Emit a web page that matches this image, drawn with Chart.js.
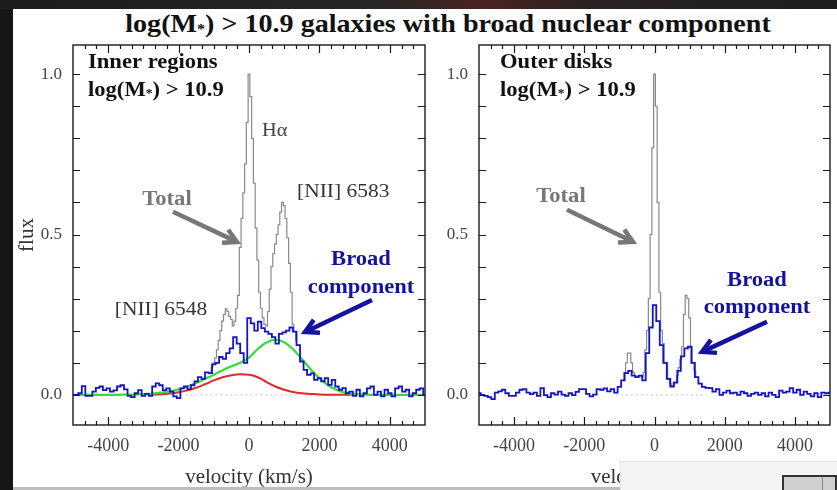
<!DOCTYPE html>
<html>
<head>
<meta charset="utf-8">
<title>Broad nuclear component</title>
<style>
  body {
    margin: 0;
    width: 837px;
    height: 490px;
    overflow: hidden;
    position: relative;
    background: #161616;
    font-family: 'Liberation Serif', 'DejaVu Serif', serif;
  }
  .topband {
    position: absolute; left: 0; top: 0; width: 837px; height: 9px;
    background: linear-gradient(90deg, #1c1c1c 0%, #262626 45%, #4a2420 58%, #2a2222 70%, #1e1e1e 100%);
  }
  .sheet { position: absolute; left: 13px; top: 9px; right: 0; bottom: 0; background: #ffffff; }
  .title {
    position: absolute; left: 0; top: 9px; width: 896px;
    text-align: center; font-weight: bold; font-size: 26px; color: #111;
    transform: scaleX(1.08); transform-origin: 448px 0;
  }
  .title .star { font-size: 15px; vertical-align: -2px; }
  canvas { position: absolute; top: 0; }
  #inner { left: 0; }
  #outer { left: 430px; }
  .shelf { position: absolute; left: 13px; top: 487px; width: 607px; height: 3px; background: #bdbdbd; }
  .popup {
    position: absolute; left: 620px; top: 461px; right: 0; bottom: 0;
    background: #f4f4f4; border-top: 1px solid #e4e4e4; border-left: 1px solid #e4e4e4;
  }
  .thumb {
    position: absolute; left: 782px; top: 475px; width: 51px; height: 15px;
    border: 2px solid #333; border-bottom: none; background: #cfcfcf;
  }
  .thumb::after { content: ''; position: absolute; left: 38px; top: 0; bottom: 0; border-left: 1px solid #888; }
</style>
<script src="https://cdn.jsdelivr.net/npm/chart.js"></script>
</head>
<body>
<div class="topband"></div>
<div class="sheet"></div>
<div class="title">log(M<span class="star">*</span>) &gt; 10.9 galaxies with broad nuclear component</div>
<canvas id="inner" width="430" height="490"></canvas>
<canvas id="outer" width="407" height="490"></canvas>
<div class="shelf"></div>
<div class="popup"></div>
<div class="thumb"></div>
<script>
// spectra are sampled on regular velocity grids (km/s): start + i * step
const specStart = -5000, specStep = 100;
const totalStep = 50;
const fitStep = 250;

// inner regions: broad-component spectrum (blue)
const innerBroad = [
  0.0, 0.0, 0.005, 0.027, -0.003, -0.003, 0.01, 0.022, 0.026, 0.015,
  0.02, 0.01, 0.014, 0.026, 0.03, 0.017, -0.003, -0.007, 0.005, 0.015,
  -0.003, 0.003, -0.003, 0.026, 0.036, 0.03, 0.015, 0.02, 0.01, -0.005,
  -0.01, 0.02, 0.026, 0.018, 0.03, 0.042, 0.055, 0.05, 0.07, 0.068,
  0.095, 0.1, 0.118, 0.112, 0.13, 0.145, 0.18, 0.16, 0.13, 0.1,
  0.239, 0.223, 0.2, 0.228, 0.208, 0.197, 0.19, 0.18, 0.16, 0.19,
  0.195, 0.2, 0.21, 0.197, 0.155, 0.104, 0.078, 0.062, 0.067, 0.047,
  0.052, 0.042, 0.052, 0.031, 0.047, 0.026, 0.016, 0.021, 0.005, 0.01,
  -0.003, 0.016, -0.005, 0.005, 0.02, 0.026, 0.0, 0.01, -0.005, 0.016,
  0.005, -0.005, 0.02, 0.026, 0.01, 0.016, -0.005, 0.005, 0.016, 0.02, 0.0
];
// inner regions: total spectrum (grey), only where it rises above the broad one
const innerTotalStart = -1100;
const innerTotal = [
  0.074, 0.085, 0.1, 0.115, 0.14, 0.17, 0.2, 0.23, 0.25, 0.268,
  0.26, 0.245, 0.235, 0.215, 0.23, 0.27, 0.31, 0.46, 0.55, 0.63,
  0.72, 0.85, 1.0, 0.93, 0.8, 0.66, 0.52, 0.42, 0.32, 0.27,
  0.24, 0.22, 0.215, 0.26, 0.33, 0.4, 0.44, 0.47, 0.5, 0.53,
  0.57, 0.6, 0.59, 0.55, 0.49, 0.41, 0.32, 0.22, 0.197, 0.17
];
// inner regions: fitted broad component (green) and narrow-line residual (red)
const innerGreenStart = -5000;
const innerGreen = [
  0, 0, 0, 0, 0, 0, 0.001, 0.001, 0.002, 0.004,
  0.007, 0.011, 0.017, 0.026, 0.037, 0.05, 0.063, 0.077, 0.089, 0.1,
  0.116, 0.143, 0.163, 0.172, 0.164, 0.142, 0.112, 0.08, 0.052, 0.03,
  0.015, 0.006, 0.002, 0.001, 0, 0, 0, 0, 0, 0, 0
];
const innerRedStart = -2750;
const innerRed = [
  0, 0.002, 0.004, 0.008, 0.014, 0.022, 0.033, 0.045, 0.055, 0.061,
  0.064, 0.063, 0.055, 0.04, 0.026, 0.016, 0.009, 0.005, 0.003, 0.001,
  0, 0, 0, 0
];

// outer disks: broad-component spectrum (blue)
const outerBroad = [
  0.005, 0.0, -0.003, -0.007, -0.013, 0.007, 0.011, 0.016, 0.005, -0.003,
  -0.003, 0.007, 0.016, 0.018, 0.007, 0.002, 0.007, -0.003, 0.021, -0.001,
  -0.007, 0.005, 0.001, 0.01, 0.001, -0.003, 0.005, -0.001, 0.009, 0.018,
  0.018, 0.003, -0.005, 0.001, 0.018, 0.016, 0.02, 0.011, 0.018, 0.007,
  0.025, 0.045, 0.068, 0.075, 0.06, 0.055, 0.06, 0.045, 0.13, 0.21,
  0.28, 0.23, 0.155, 0.1, 0.05, 0.026, 0.038, 0.075, 0.12, 0.145,
  0.15, 0.1, 0.055, 0.035, 0.025, 0.022, 0.021, 0.01, 0.018, 0.0,
  0.007, 0.013, 0.005, 0.007, 0.0, 0.01, 0.005, -0.003, 0.003, 0.007,
  0.0, 0.005, -0.005, 0.007, 0.0, -0.007, 0.013, 0.007, 0.01, 0.021,
  0.007, 0.016, 0.0, 0.01, 0.003, -0.005, 0.005, -0.007, 0.007, 0.005, 0.007
];
const outerTotalStart = -900;
const outerTotal = [
  0.045, 0.07, 0.1, 0.13, 0.13, 0.1, 0.07, 0.06, 0.055, 0.058,
  0.06, 0.055, 0.07, 0.14, 0.2, 0.3, 0.5, 0.77, 1.0, 0.9,
  0.6, 0.32, 0.2, 0.16, 0.1, 0.1, 0.05, 0.035, 0.026, 0.03,
  0.04, 0.06, 0.085, 0.11, 0.15, 0.25, 0.31, 0.3, 0.24, 0.15,
  0.1, 0.075, 0.055
];

// dotted zero-flux reference segments
const innerZero = [-2800, 3200];
const outerZero = [-1100, 1500];

const xTickValues = [-4000, -2000, 0, 2000, 4000];
const xTickLabels = ['-4000', '-2000', '0', '2000', '4000'];
const yTickValues = [0, 0.5, 1.0];
const yTickLabels = ['0.0', '0.5', '1.0'];

const serif = "'Liberation Serif', 'DejaVu Serif', serif";

function points(start, step, values) {
  return values.map((f, i) => ({ x: start + i * step, y: f }));
}

// minor ticks every 2000/6 km/s on x, every 0.1 on y
const xMinor = [];
for (let k = -14; k <= 14; k++) xMinor.push({ v: k * 1000 / 3, major: k % 6 === 0 });
const yMinor = [0, 0.1, 0.2, 0.3, 0.4, 0.5, 0.6, 0.7, 0.8, 0.9, 1.0];

const frameTicks = {
  id: 'frameTicks',
  afterDatasetsDraw(chart) {
    const { ctx, chartArea: a, scales: { x, y } } = chart;
    ctx.save();
    ctx.strokeStyle = '#1a1a1a';
    ctx.lineWidth = 1.4;
    ctx.strokeRect(a.left, a.top, a.right - a.left, a.bottom - a.top);
    ctx.lineWidth = 1.2;
    ctx.beginPath();
    xMinor.forEach(t => {
      const px = Math.round(x.getPixelForValue(t.v)) + 0.5;
      const len = t.major ? 8 : 4;
      ctx.moveTo(px, a.bottom); ctx.lineTo(px, a.bottom - len);
      ctx.moveTo(px, a.top); ctx.lineTo(px, a.top + len);
    });
    yMinor.forEach(v => {
      const py = Math.round(y.getPixelForValue(v)) + 0.5;
      ctx.moveTo(a.left, py); ctx.lineTo(a.left + 7, py);
      ctx.moveTo(a.right, py); ctx.lineTo(a.right - 7, py);
    });
    ctx.stroke();
    ctx.restore();
  }
};

// the lettering on this figure is set a little wide, so text is stretched horizontally
const textStretch = 1.13;

function drawRich(ctx, x, y, parts, size, weight, align) {
  const fontFor = p => `${weight} ${p.sub ? Math.round(size * 0.6) : size}px ${serif}`;
  let width = 0;
  parts.forEach(p => { ctx.font = fontFor(p); width += ctx.measureText(p.t).width; });
  ctx.save();
  ctx.translate(x, y);
  ctx.scale(textStretch, 1);
  let cx = align === 'center' ? -width / 2 : 0;
  ctx.textAlign = 'left';
  ctx.textBaseline = 'middle';
  parts.forEach(p => {
    ctx.font = fontFor(p);
    ctx.fillText(p.t, cx, p.sub ? 3 : 0);
    cx += ctx.measureText(p.t).width;
  });
  ctx.restore();
}

function drawArrow(ctx, x0, y0, x1, y1, color) {
  const ang = Math.atan2(y1 - y0, x1 - x0);
  const head = 15;
  ctx.save();
  ctx.strokeStyle = color;
  ctx.lineWidth = 4.5;
  ctx.lineCap = 'butt';
  ctx.lineJoin = 'miter';
  ctx.beginPath();
  ctx.moveTo(x0, y0);
  ctx.lineTo(x1 - Math.cos(ang) * 3, y1 - Math.sin(ang) * 3);
  ctx.stroke();
  ctx.beginPath();
  ctx.moveTo(x1 - head * Math.cos(ang - 0.5), y1 - head * Math.sin(ang - 0.5));
  ctx.lineTo(x1, y1);
  ctx.lineTo(x1 - head * Math.cos(ang + 0.5), y1 - head * Math.sin(ang + 0.5));
  ctx.stroke();
  ctx.restore();
}

const notes = {
  id: 'notes',
  afterDraw(chart, args, opts) {
    const { ctx, scales: { x, y } } = chart;
    ctx.save();
    (opts.texts || []).forEach(n => {
      ctx.fillStyle = n.color;
      drawRich(ctx, x.getPixelForValue(n.v), y.getPixelForValue(n.f), n.parts, n.size, n.weight, n.align);
    });
    (opts.arrows || []).forEach(a => {
      drawArrow(ctx, x.getPixelForValue(a.from[0]), y.getPixelForValue(a.from[1]),
        x.getPixelForValue(a.to[0]), y.getPixelForValue(a.to[1]), a.color);
    });
    ctx.restore();
  }
};

const grey = '#777777';
const navy = '#1313a0';
const massLabel = [{ t: 'log(M' }, { t: '*', sub: true }, { t: ') > 10.9' }];

Chart.defaults.font.family = serif;
Chart.defaults.color = '#444';

function panel(id, cfg) {
  const datasets = [
    { data: points(specStart, specStep, cfg.broad), borderColor: '#1414c8', borderWidth: 1.8, stepped: 'middle' }
  ];
  if (cfg.green) datasets.push({ data: points(innerGreenStart, fitStep, cfg.green), borderColor: '#33dd33', borderWidth: 2.2, cubicInterpolationMode: 'monotone' });
  if (cfg.red) datasets.push({ data: points(innerRedStart, fitStep, cfg.red), borderColor: '#e02a2a', borderWidth: 2, cubicInterpolationMode: 'monotone' });
  datasets.push({ data: points(cfg.totalStart, totalStep, cfg.total), borderColor: '#8a8a8a', borderWidth: 1.2, stepped: 'middle' });
  datasets.push({ data: cfg.zero.map(v => ({ x: v, y: 0 })), borderColor: '#c4c4c4', borderWidth: 1, borderDash: [2, 3] });

  return new Chart(document.getElementById(id), {
    type: 'line',
    data: { datasets },
    options: {
      responsive: false,
      animation: false,
      devicePixelRatio: 1,
      layout: { padding: { left: 0, top: 45, right: cfg.padRight, bottom: 0 } },
      elements: { point: { radius: 0 } },
      plugins: {
        legend: { display: false },
        tooltip: { enabled: false },
        notes: { texts: cfg.texts, arrows: cfg.arrows }
      },
      scales: {
        x: {
          type: 'linear', min: -5000, max: 5000,
          afterBuildTicks: s => { s.ticks = xTickValues.map(v => ({ value: v })); },
          afterFit: s => { s.height = 65; },
          ticks: { callback: (v, i) => xTickLabels[i], padding: 10, maxRotation: 0, font: { family: serif, size: 18 }, color: '#444' },
          grid: { display: false, drawTicks: false },
          border: { display: false },
          title: { display: true, text: 'velocity (km/s)', font: { family: serif, size: 21 }, color: '#333', padding: { top: 0, bottom: 0 } }
        },
        y: {
          type: 'linear', min: -0.094, max: 1.091,
          afterBuildTicks: s => { s.ticks = yTickValues.map(v => ({ value: v })); },
          afterFit: s => { s.width = cfg.axisWidth; },
          ticks: { callback: (v, i) => yTickLabels[i], padding: 11, font: { family: serif, size: 17 }, color: '#444' },
          grid: { display: false, drawTicks: false },
          border: { display: false },
          title: { display: cfg.showFlux, text: 'flux', font: { family: serif, size: 21 }, color: '#333', padding: { top: 15, bottom: 0 } }
        }
      }
    },
    plugins: [frameTicks, notes]
  });
}

panel('inner', {
  broad: innerBroad, total: innerTotal, totalStart: innerTotalStart,
  green: innerGreen, red: innerRed, zero: innerZero,
  axisWidth: 73, padRight: 5, showFlux: true,
  texts: [
    { parts: [{ t: 'Inner regions' }], v: -4574, f: 1.035, size: 20, weight: 'bold', align: 'left', color: '#111' },
    { parts: massLabel, v: -4574, f: 0.948, size: 20, weight: 'bold', align: 'left', color: '#111' },
    { parts: [{ t: 'Hα' }], v: 369, f: 0.823, size: 18, weight: 'normal', align: 'left', color: '#444' },
    { parts: [{ t: '[NII] 6583' }], v: 1364, f: 0.633, size: 19, weight: 'normal', align: 'left', color: '#333' },
    { parts: [{ t: 'Total' }], v: -2330, f: 0.608, size: 20, weight: 'bold', align: 'center', color: grey },
    { parts: [{ t: '[NII] 6548' }], v: -2500, f: 0.265, size: 19, weight: 'normal', align: 'center', color: '#333' },
    { parts: [{ t: 'Broad' }], v: 3182, f: 0.421, size: 20, weight: 'bold', align: 'center', color: navy },
    { parts: [{ t: 'component' }], v: 3182, f: 0.334, size: 20, weight: 'bold', align: 'center', color: navy }
  ],
  arrows: [
    { from: [-2159, 0.571], to: [-341, 0.477], color: grey },
    { from: [3494, 0.296], to: [1591, 0.196], color: navy }
  ]
});

panel('outer', {
  broad: outerBroad, total: outerTotal, totalStart: outerTotalStart,
  zero: outerZero,
  axisWidth: 49, padRight: 7, showFlux: false,
  texts: [
    { parts: [{ t: 'Outer disks' }], v: -4402, f: 1.035, size: 20, weight: 'bold', align: 'left', color: '#111' },
    { parts: massLabel, v: -4402, f: 0.948, size: 20, weight: 'bold', align: 'left', color: '#111' },
    { parts: [{ t: 'Total' }], v: -2664, f: 0.617, size: 20, weight: 'bold', align: 'center', color: grey },
    { parts: [{ t: 'Broad' }], v: 2920, f: 0.355, size: 20, weight: 'bold', align: 'center', color: navy },
    { parts: [{ t: 'component' }], v: 2920, f: 0.271, size: 20, weight: 'bold', align: 'center', color: navy }
  ],
  arrows: [
    { from: [-2493, 0.577], to: [-613, 0.477], color: grey },
    { from: [3205, 0.228], to: [1353, 0.134], color: navy }
  ]
});
</script>
</body>
</html>
